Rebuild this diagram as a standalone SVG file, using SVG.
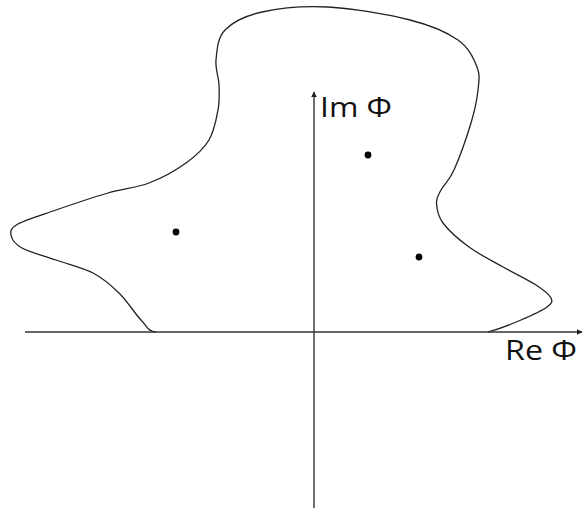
<svg xmlns="http://www.w3.org/2000/svg" width="583" height="510" viewBox="0 0 583 510">
<style>
.curve{fill:none;stroke:#222;stroke-width:1.3}
.axis{fill:none;stroke:#333;stroke-width:1.4}
.dot{fill:#000}
.lbl{font-family:"Open Sans","Noto Sans",sans-serif;font-size:27px;fill:#111}
</style>
<defs>
<marker id="ah" viewBox="0 0 10 10" refX="9" refY="5" markerWidth="6" markerHeight="6" markerUnits="userSpaceOnUse" orient="auto">
<path d="M0,0 L10,5 L0,10 z" fill="#222"/>
</marker>
</defs>
<g id="region">
<path class="curve" d="M156,332 C148,331.5 147.2,326.5 141,320 C134.8,313.5 127,300.8 119,293 C111,285.2 103.5,278.5 93,273 C82.5,267.5 67.8,264.2 56,260 C44.2,255.8 29.5,252.2 22,248 C14.5,243.8 11.7,239 11,235 C10.3,231 10.5,228.2 18,224 C25.5,219.8 41,215.2 56,210 C71,204.8 92.5,197.5 108,193 C123.5,188.5 136,188 149,183 C162,178 176,170.2 186,163 C196,155.8 203.7,148.8 209,140 C214.3,131.2 216.3,119.2 218,110 C219.7,100.8 219.3,93.3 219,85 C218.7,76.7 215,69.2 216,60 C217,50.8 217.3,38 225,30 C232.7,22 244.8,15.8 262,12 C279.2,8.2 303.3,5.7 328,7 C352.7,8.3 388.3,14.5 410,20 C431.7,25.5 446.8,32.2 458,40 C469.2,47.8 473.7,58.7 477,67 C480.3,75.3 479,80.7 478,90 C477,99.3 475,109.7 471,123 C467,136.3 459,158.8 454,170 C449,181.2 443.9,184.5 441,190 C438.1,195.5 436.2,197.5 436.5,203 C436.8,208.5 437.6,215.7 443,223 C448.4,230.3 459,239.7 469,247 C479,254.3 491.8,260.7 503,267 C514.2,273.3 528,279.8 536,285 C544,290.2 549.2,294.3 551,298 C552.8,301.7 552,303.3 547,307 C542,310.7 530.8,315.8 521,320 C511.2,324.2 500,329 488,332"/>
</g>
<g id="axes">
<line class="axis" x1="25" y1="332" x2="582" y2="332" marker-end="url(#ah)"/>
<line class="axis" x1="314" y1="508" x2="314" y2="92" marker-end="url(#ah)"/>
</g>
<g id="poles">
<circle class="dot" cx="176" cy="232" r="3.4"/>
<circle class="dot" cx="368" cy="155" r="3.4"/>
<circle class="dot" cx="419" cy="257" r="3.4"/>
</g>
<g id="labels">
<text class="lbl" x="320" y="117" textLength="72" lengthAdjust="spacingAndGlyphs">Im Φ</text>
<text class="lbl" x="505" y="360" textLength="72" lengthAdjust="spacingAndGlyphs">Re Φ</text>
</g>
</svg>
